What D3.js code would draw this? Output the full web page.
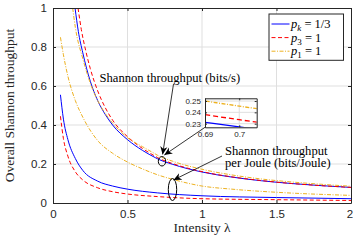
<!DOCTYPE html>
<html><head><meta charset="utf-8">
<script src="https://cdn.jsdelivr.net/npm/d3@7"></script>
<style>
html,body{margin:0;padding:0;background:#fff;}
svg{display:block;}
</style></head>
<body>
<svg id="chart" width="353" height="240"></svg>
<script>
// ---------- data ----------
const xTicks = [0, 0.5, 1, 1.5, 2];
const xTickLabels = ["0", "0.5", "1", "1.5", "2"];
const yTicks = [0, 0.2, 0.4, 0.6, 0.8, 1];
const yTickLabels = ["0", "0.2", "0.4", "0.6", "0.8", "1"];

// Shannon throughput (bits/s)
const lamBlueHi = [0.148,0.17,0.2,0.25,0.3,0.35,0.4,0.5,0.6,0.69,0.7,0.8,1.0,1.2,1.4,1.6,1.8,2.0];
const blueHi    = [1.0,0.88,0.77,0.625,0.525,0.455,0.40,0.325,0.27,0.2312,0.2272,0.199,0.159,0.133,0.114,0.1,0.089,0.08];
const lamRedHi  = [0.168,0.19,0.22,0.25,0.3,0.35,0.4,0.5,0.6,0.69,0.7,0.8,1.0,1.2,1.4,1.6,1.8,2.0];
const redHi     = [1.0,0.89,0.78,0.69,0.575,0.49,0.425,0.34,0.28,0.238,0.2335,0.203,0.161,0.134,0.115,0.1,0.089,0.08];
const lamOrHi   = [0.132,0.15,0.2,0.25,0.3,0.35,0.4,0.5,0.6,0.69,0.7,0.8,1.0,1.2,1.4,1.6,1.8,2.0];
const orHi      = [1.0,0.9,0.74,0.615,0.525,0.46,0.41,0.335,0.289,0.250,0.2455,0.215,0.173,0.144,0.123,0.108,0.096,0.086];

// Shannon throughput per Joule (bits/Joule)
const lamOrLo   = [0.05,0.07,0.1,0.15,0.2,0.3,0.4,0.5,0.6,0.7,0.8,1.0,1.2,1.5,2.0];
const orLo      = [0.85,0.76,0.65,0.525,0.44,0.32,0.255,0.21,0.175,0.145,0.122,0.087,0.071,0.055,0.039];
const lamBlueLo = [0.05,0.07,0.1,0.15,0.2,0.3,0.4,0.5,0.7,1.0,1.5,2.0];
const blueLo    = [0.555,0.43,0.325,0.228,0.167,0.112,0.087,0.071,0.052,0.037,0.028,0.022];
const lamRedLo  = [0.05,0.07,0.1,0.15,0.2,0.3,0.4,0.5,0.7,1.0,1.5,2.0];
const redLo     = [0.445,0.33,0.24,0.16,0.118,0.078,0.058,0.046,0.033,0.022,0.017,0.013];

const legendLabels = [
  {sym:"p", sub:"k", rest:" = 1/3"},
  {sym:"p", sub:"3", rest:" = 1"},
  {sym:"p", sub:"1", rest:" = 1"}
];
const insetXTicks = [0.69, 0.7];
const insetYTicks = [0.23, 0.24, 0.25];

// ---------- styles ----------
const BLUE = "#0000ff", RED = "#ff0000", ORANGE = "#EDB120";
const seriesStyle = [
  {color: BLUE, dash: null},
  {color: RED, dash: "4,2.5"},
  {color: ORANGE, dash: "4,1.5,1,1.5"}
];
const series = [
  {lam: lamBlueHi, v: blueHi, s: 0},
  {lam: lamRedHi, v: redHi, s: 1},
  {lam: lamOrHi, v: orHi, s: 2},
  {lam: lamBlueLo, v: blueLo, s: 0},
  {lam: lamRedLo, v: redLo, s: 1},
  {lam: lamOrLo, v: orLo, s: 2}
];

const svg = d3.select("#chart");
const M = {l: 53, t: 8, r: 351, b: 203};
const x = d3.scaleLinear().domain([0, 2]).range([M.l, M.r]);
const y = d3.scaleLinear().domain([0, 1]).range([M.b, M.t]);
const AX = "#262626", GRID = "#dfdfdf";
const SANS = "'Liberation Sans', Arial, sans-serif";
const SERIF = "'Liberation Serif', 'Times New Roman', serif";

const defs = svg.append("defs");
defs.append("clipPath").attr("id","clipMain").append("rect")
  .attr("x", M.l).attr("y", M.t).attr("width", M.r - M.l).attr("height", M.b - M.t);
defs.append("marker").attr("id","arr").attr("viewBox","0 0 10 10")
  .attr("refX",10).attr("refY",5).attr("markerWidth",8).attr("markerHeight",8)
  .attr("markerUnits","userSpaceOnUse").attr("orient","auto")
  .append("path").attr("d","M0,0.5 L10,5 L0,9.5 L3,5 Z").attr("fill","#000");

// grid
const g = svg.append("g");
g.selectAll(".gx").data(xTicks.slice(1,-1)).join("line")
  .attr("x1", d=>x(d)).attr("x2", d=>x(d)).attr("y1", M.t).attr("y2", M.b)
  .attr("stroke", GRID).attr("stroke-width", 1);
g.selectAll(".gy").data(yTicks.slice(1,-1)).join("line")
  .attr("y1", d=>y(d)).attr("y2", d=>y(d)).attr("x1", M.l).attr("x2", M.r)
  .attr("stroke", GRID).attr("stroke-width", 1);

// curves
const line = (xs, ys) => d3.line().x(d=>xs(d[0])).y(d=>ys(d[1])).curve(d3.curveMonotoneX);
const cg = svg.append("g").attr("clip-path","url(#clipMain)");
series.forEach(sr => {
  const pts = sr.lam.map((l,i)=>[l, sr.v[i]]);
  const st = seriesStyle[sr.s];
  cg.append("path").datum(pts).attr("d", line(x,y)).attr("fill","none")
    .attr("stroke", st.color).attr("stroke-width", 1)
    .attr("stroke-dasharray", st.dash);
});

// axes (box with inward ticks)
const axB = d3.axisBottom(x).tickValues(xTicks).tickFormat((d,i)=>xTickLabels[i]).tickSizeInner(-3).tickSizeOuter(0).tickPadding(7);
const axL = d3.axisLeft(y).tickValues(yTicks).tickFormat((d,i)=>yTickLabels[i]).tickSizeInner(-3).tickSizeOuter(0).tickPadding(6);
const axT = d3.axisTop(x).tickValues(xTicks).tickFormat("").tickSizeInner(-3).tickSizeOuter(0);
const axR = d3.axisRight(y).tickValues(yTicks).tickFormat("").tickSizeInner(-3).tickSizeOuter(0);
function styleAxis(sel){
  sel.selectAll("path").attr("stroke", AX).attr("stroke-width", 1);
  sel.selectAll("line").attr("stroke", AX);
  sel.selectAll("text").attr("fill", AX).style("font-family", SANS).style("font-size","11.5px");
}
const gB = svg.append("g").attr("transform",`translate(0,${M.b})`).call(axB).call(styleAxis);
gB.selectAll(".tick text").filter(d => d === 2).attr("dx", "-1.5");
svg.append("g").attr("transform",`translate(${M.l},0)`).call(axL).call(styleAxis);
svg.append("g").attr("transform",`translate(0,${M.t})`).call(axT).call(styleAxis);
svg.append("g").attr("transform",`translate(${M.r},0)`).call(axR).call(styleAxis);

// axis labels
svg.append("text").attr("x", 202).attr("y", 232).attr("text-anchor","middle")
  .style("font-family", SERIF).style("font-size","13.5px").attr("fill","#262626")
  .text("Intensity λ");
svg.append("text").attr("transform",`translate(14,${(M.t+M.b)/2}) rotate(-90)`).attr("text-anchor","middle")
  .style("font-family", SERIF).style("font-size","13.5px").attr("fill","#262626")
  .text("Overall Shannon throughput");

// annotations: ellipses and arrows
svg.append("ellipse").attr("cx",162).attr("cy",161.3).attr("rx",3.7).attr("ry",4.7)
  .attr("fill","none").attr("stroke","#000").attr("stroke-width",1);
svg.append("ellipse").attr("cx",172.5).attr("cy",189.5).attr("rx",4.2).attr("ry",11)
  .attr("fill","none").attr("stroke","#000").attr("stroke-width",1);
const arrows = [[173.5,84,162.6,154.5],[205,127.3,164.3,155],[222,156,173.5,180]];
arrows.forEach(a => svg.append("line").attr("x1",a[0]).attr("y1",a[1]).attr("x2",a[2]).attr("y2",a[3])
  .attr("stroke","#000").attr("stroke-width",0.8).attr("marker-end","url(#arr)"));

// annotation texts
svg.append("text").attr("x", 99.5).attr("y", 81.5).style("font-family", SERIF).style("font-size","12.6px")
  .attr("fill","#000").text("Shannon throughput (bits/s)");
svg.append("text").attr("x", 225).attr("y", 154.5).style("font-family", SERIF).style("font-size","12.6px")
  .attr("fill","#000").text("Shannon throughput");
svg.append("text").attr("x", 225).attr("y", 167).style("font-family", SERIF).style("font-size","12.6px")
  .attr("fill","#000").text("per Joule (bits/Joule)");

// inset
const IX = {l:205, r:256.7, t:98.3, b:127.3};
const xi = d3.scaleLinear().domain([0.69, 0.7051]).range([IX.l, IX.r]);
const yi = d3.scaleLinear().domain([0.2268, 0.2524]).range([IX.b, IX.t]);
defs.append("clipPath").attr("id","clipInset").append("rect")
  .attr("x", IX.l).attr("y", IX.t).attr("width", IX.r-IX.l).attr("height", IX.b-IX.t);
const ig = svg.append("g");
ig.append("rect").attr("x", IX.l).attr("y", IX.t).attr("width", IX.r-IX.l).attr("height", IX.b-IX.t).attr("fill","#fff");
ig.selectAll(".igx").data(insetXTicks.slice(1)).join("line")
  .attr("x1", d=>xi(d)).attr("x2", d=>xi(d)).attr("y1", IX.t).attr("y2", IX.b).attr("stroke", GRID);
ig.selectAll(".igy").data(insetYTicks).join("line")
  .attr("y1", d=>yi(d)).attr("y2", d=>yi(d)).attr("x1", IX.l).attr("x2", IX.r).attr("stroke", GRID);
const icg = ig.append("g").attr("clip-path","url(#clipInset)");
series.slice(0,3).forEach(sr => {
  const pts = sr.lam.map((l,i)=>[l, sr.v[i]]).filter(p => p[0] >= 0.6 && p[0] <= 0.8);
  const st = seriesStyle[sr.s];
  icg.append("path").datum(pts).attr("d", line(xi,yi)).attr("fill","none")
    .attr("stroke", st.color).attr("stroke-width", 1.3)
    .attr("stroke-dasharray", sr.s === 1 ? "5,3" : st.dash);
});
const iaxB = d3.axisBottom(xi).tickValues(insetXTicks).tickFormat(d3.format("")).tickSizeInner(-2).tickSizeOuter(0).tickPadding(4);
const iaxL = d3.axisLeft(yi).tickValues(insetYTicks).tickFormat(d3.format("")).tickSizeInner(-2).tickSizeOuter(0).tickPadding(4);
const iaxT = d3.axisTop(xi).tickValues(insetXTicks).tickFormat("").tickSizeInner(-2).tickSizeOuter(0);
const iaxR = d3.axisRight(yi).tickValues(insetYTicks).tickFormat("").tickSizeInner(-2).tickSizeOuter(0);
function styleInset(sel){
  sel.selectAll("path").attr("stroke", AX).attr("stroke-width", 1);
  sel.selectAll("line").attr("stroke", AX);
  sel.selectAll("text").attr("fill", AX).style("font-family", SANS).style("font-size","8px");
}
ig.append("g").attr("transform",`translate(0,${IX.b})`).call(iaxB).call(styleInset);
ig.append("g").attr("transform",`translate(${IX.l},0)`).call(iaxL).call(styleInset);
ig.append("g").attr("transform",`translate(0,${IX.t})`).call(iaxT).call(styleInset);
ig.append("g").attr("transform",`translate(${IX.r},0)`).call(iaxR).call(styleInset);

// legend
const LG = {x: 269, y: 14, w: 74.5, h: 46.3};
const lg = svg.append("g");
lg.append("rect").attr("x", LG.x).attr("y", LG.y).attr("width", LG.w).attr("height", LG.h)
  .attr("fill","#fff").attr("stroke","#262626").attr("stroke-width",1);
legendLabels.forEach((lb, i) => {
  const yy = 24 + i*13.6;
  const st = seriesStyle[i];
  lg.append("line").attr("x1", 271.5).attr("x2", 289.5).attr("y1", yy).attr("y2", yy)
    .attr("stroke", st.color).attr("stroke-width", 1).attr("stroke-dasharray", st.dash);
  const t = lg.append("text").attr("x", 291).attr("y", yy + 4).style("font-family", SERIF)
    .style("font-size","12.5px").attr("fill","#000");
  t.append("tspan").style("font-style","italic").text(lb.sym);
  t.append("tspan").attr("dy", 3).style("font-size","9px").style("font-style", lb.sub === "k" ? "italic" : "normal").text(lb.sub);
  t.append("tspan").attr("dy", -3).text(lb.rest);
});
</script>
</body></html>
